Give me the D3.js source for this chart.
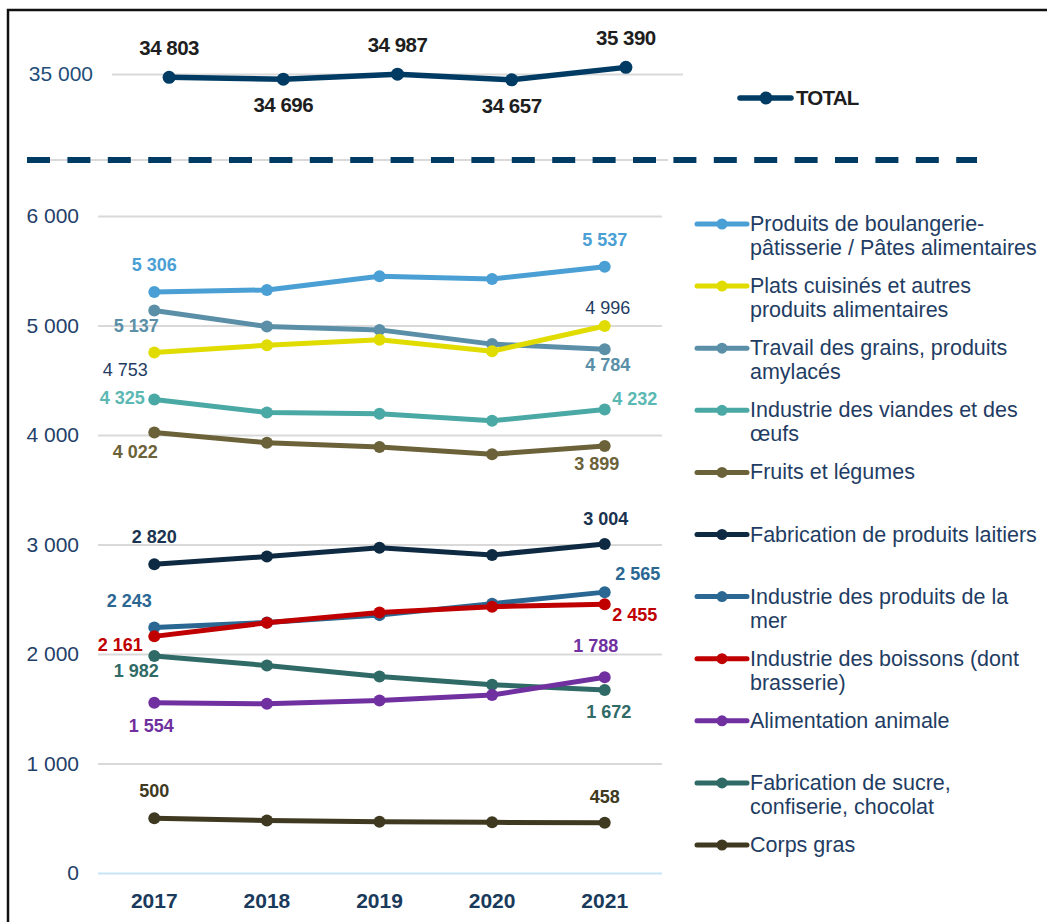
<!DOCTYPE html>
<html>
<head>
<meta charset="utf-8">
<script src="https://cdn.jsdelivr.net/npm/d3@7"></script>
<style>
  body { margin: 0; background: #fff; }
  svg { font-family: "Liberation Sans", Arial, sans-serif; display: block; }
</style>
</head>
<body>
<div id="chart"></div>
<script>
const YEARS = ["2017", "2018", "2019", "2020", "2021"];

const TOTAL = [34803, 34696, 34987, 34657, 35390];

const SERIES_NAMES = [
  "Produits de boulangerie-pâtisserie / Pâtes alimentaires",
  "Plats cuisinés et autres produits alimentaires",
  "Travail des grains, produits amylacés",
  "Industrie des viandes et des œufs",
  "Fruits et légumes",
  "Fabrication de produits laitiers",
  "Industrie des produits de la mer",
  "Industrie des boissons (dont brasserie)",
  "Alimentation animale",
  "Fabrication de sucre, confiserie, chocolat",
  "Corps gras",
];

// legend lines as wrapped in the source
const LEGEND_LINES = [
  ["Produits de boulangerie-", "pâtisserie / Pâtes alimentaires"],
  ["Plats cuisinés et autres", "produits alimentaires"],
  ["Travail des grains, produits", "amylacés"],
  ["Industrie des viandes et des", "œufs"],
  ["Fruits et légumes"],
  ["Fabrication de produits laitiers"],
  ["Industrie des produits de la", "mer"],
  ["Industrie des boissons (dont", "brasserie)"],
  ["Alimentation animale"],
  ["Fabrication de sucre,", "confiserie, chocolat"],
  ["Corps gras"],
];

const boulangerie = [5306, 5325, 5450, 5425, 5537];
const platsCuisines = [4753, 4820, 4870, 4765, 4996];
const grains = [5137, 4990, 4960, 4830, 4784];
const viandes = [4325, 4205, 4195, 4130, 4232];
const fruitsLegumes = [4022, 3930, 3890, 3825, 3899];
const laitiers = [2820, 2890, 2970, 2905, 3004];
const produitsMer = [2243, 2288, 2355, 2460, 2565];
const boissons = [2161, 2285, 2378, 2432, 2455];
const animale = [1554, 1545, 1575, 1625, 1788];
const sucre = [1982, 1895, 1795, 1720, 1672];
const corpsGras = [500, 480, 468, 463, 458];

const Y_TICKS = [0, 1000, 2000, 3000, 4000, 5000, 6000];
const TOTAL_TICKS = [35000];

const navy = "#1f3d63";
const colors = [
  "#4a9fd5", "#e1dc00", "#5b8fa8", "#4aa9a4", "#6b6239", "#0e2a42",
  "#2a6793", "#c00000", "#7030a0", "#2f6a66", "#3e3920",
];
const labelColors = [
  "#4a9fd5", navy, "#5b8fa8", "#5cb8b3", "#6b6239", "#1a3350",
  "#2a6793", "#c00000", "#7030a0", "#2f6a66", "#3e3920",
];

const values = [
  boulangerie, platsCuisines, grains, viandes, fruitsLegumes, laitiers,
  produitsMer, boissons, animale, sucre, corpsGras,
];

// draw order (later = on top)
const drawOrder = [0, 2, 1, 3, 4, 5, 6, 7, 9, 8, 10];

// label offsets for first / last point: [dx, dy]
const labelOffsets = [
  [[0, -21], [0, -21]],
  [[-29, 23], [3, -12]],
  [[-18, 22], [3, 22]],
  [[-32, 5], [30, -5]],
  [[-19, 25], [-8, 24]],
  [[0, -21], [1, -19]],
  [[-25, -20], [33, -12]],
  [[-34, 15], [30, 17]],
  [[-3, 29], [-9, -25]],
  [[-18, 21], [4, 28]],
  [[0, -21], [0, -20]],
];
const labelBold = (i) => i !== 1;

const fr = d3.formatLocale({
  decimal: ",",
  thousands: "\u00a0",
  grouping: [3],
  currency: ["", " €"],
});
const fmt = fr.format(",d");

const W = 1047, H = 922;

const svg = d3
  .select("#chart")
  .append("svg")
  .attr("width", W)
  .attr("height", H);

svg.append("rect").attr("width", W).attr("height", H).attr("fill", "#fff");

// frame
svg
  .append("rect")
  .attr("x", 8)
  .attr("y", 10)
  .attr("width", 1200)
  .attr("height", 1200)
  .attr("fill", "none")
  .attr("stroke", "#111")
  .attr("stroke-width", 2.5);

// #region top panel (TOTAL)
const xTop = d3.scaleBand().domain(YEARS).range([112, 683]);
const yTop = d3.scaleLinear().domain([34000, 36000]).range([91, 57]);

const topAxis = svg
  .append("g")
  .attr("transform", "translate(112, 0)")
  .call(
    d3
      .axisLeft(yTop)
      .tickValues(TOTAL_TICKS)
      .tickSize(-571)
      .tickPadding(19)
      .tickFormat(fmt)
  );
topAxis.select(".domain").remove();
topAxis.selectAll("line").attr("stroke", "#d9d9d9").attr("stroke-width", 2);
topAxis
  .selectAll("text")
  .attr("fill", "#1f4e79")
  .attr("font-size", 21)
  .attr("font-family", "Liberation Sans, Arial, sans-serif");

const topLine = d3
  .line()
  .x((d, i) => xTop(YEARS[i]) + xTop.bandwidth() / 2)
  .y((d) => yTop(d));

svg
  .append("path")
  .datum(TOTAL)
  .attr("d", topLine)
  .attr("fill", "none")
  .attr("stroke", "#003b64")
  .attr("stroke-width", 5.5)
  .attr("stroke-linejoin", "round");

svg
  .selectAll(".top-dot")
  .data(TOTAL)
  .join("circle")
  .attr("class", "top-dot")
  .attr("cx", (d, i) => xTop(YEARS[i]) + xTop.bandwidth() / 2)
  .attr("cy", (d) => yTop(d))
  .attr("r", 6.5)
  .attr("fill", "#003b64");

svg
  .selectAll(".top-label")
  .data(TOTAL)
  .join("text")
  .attr("class", "top-label")
  .attr("x", (d, i) => xTop(YEARS[i]) + xTop.bandwidth() / 2)
  .attr("y", (d, i) => yTop(d) + (i % 2 === 0 ? -22 : 33))
  .attr("text-anchor", "middle")
  .attr("font-size", 20.5)
  .attr("font-weight", "bold")
  .attr("letter-spacing", -0.5)
  .attr("fill", "#1e1e1e")
  .text(fmt);

// total legend
const totalLegend = svg.append("g").attr("transform", "translate(740, 98)");
totalLegend
  .append("line")
  .attr("x1", 0)
  .attr("x2", 51)
  .attr("stroke", "#003b64")
  .attr("stroke-width", 5.5)
  .attr("stroke-linecap", "round");
totalLegend.append("circle").attr("cx", 26).attr("r", 6.5).attr("fill", "#003b64");
totalLegend
  .append("text")
  .attr("x", 56)
  .attr("y", 7)
  .attr("font-size", 20.5)
  .attr("font-weight", "bold")
  .attr("letter-spacing", -0.8)
  .attr("fill", "#1e1e1e")
  .text("TOTAL");

// separator
svg
  .append("line")
  .attr("x1", 27)
  .attr("x2", 668)
  .attr("y1", 160)
  .attr("y2", 160)
  .attr("stroke", "#d9d9d9")
  .attr("stroke-width", 2);
svg
  .append("line")
  .attr("x1", 27)
  .attr("x2", 977)
  .attr("y1", 160)
  .attr("y2", 160)
  .attr("stroke", "#003b64")
  .attr("stroke-width", 6)
  .attr("stroke-dasharray", "23 17.4");
// #endregion top panel

// #region main panel
const xMain = d3.scaleBand().domain(YEARS).range([98, 661]);
const yMain = d3.scaleLinear().domain([0, 6000]).range([873, 216]);
const cx = (i) => xMain(YEARS[i]) + xMain.bandwidth() / 2;

const yAxisG = svg
  .append("g")
  .attr("transform", "translate(98, 0)")
  .call(
    d3
      .axisLeft(yMain)
      .tickValues(Y_TICKS)
      .tickSize(-564)
      .tickPadding(19)
      .tickFormat(fmt)
  );
yAxisG.select(".domain").remove();
yAxisG
  .selectAll("line")
  .attr("stroke", (d) => (d === 0 ? "#c7e4f7" : "#d9d9d9"))
  .attr("stroke-width", 2);
yAxisG
  .selectAll("text")
  .attr("fill", "#1f4068")
  .attr("font-size", 21)
  .attr("font-family", "Liberation Sans, Arial, sans-serif");

const xAxisG = svg
  .append("g")
  .attr("transform", "translate(0, 873)")
  .call(d3.axisBottom(xMain).tickSize(0).tickPadding(20));
xAxisG.select(".domain").remove();
xAxisG
  .selectAll("text")
  .attr("fill", "#1a3a5c")
  .attr("font-size", 21)
  .attr("font-weight", "bold")
  .attr("font-family", "Liberation Sans, Arial, sans-serif");

const mainLine = d3
  .line()
  .x((d, i) => cx(i))
  .y((d) => yMain(d));

const seriesG = svg.append("g");
drawOrder.forEach((s) => {
  const g = seriesG.append("g");
  g.append("path")
    .datum(values[s])
    .attr("d", mainLine)
    .attr("fill", "none")
    .attr("stroke", colors[s])
    .attr("stroke-width", 5)
    .attr("stroke-linejoin", "round");
  g.selectAll("circle")
    .data(values[s])
    .join("circle")
    .attr("cx", (d, i) => cx(i))
    .attr("cy", (d) => yMain(d))
    .attr("r", 6)
    .attr("fill", colors[s]);
});

// data labels on first and last year
const labelG = svg.append("g");
values.forEach((vals, s) => {
  [0, vals.length - 1].forEach((idx, k) => {
    const [dx, dy] = labelOffsets[s][k];
    labelG
      .append("text")
      .attr("x", cx(idx) + dx)
      .attr("y", yMain(vals[idx]) + dy)
      .attr("text-anchor", "middle")
      .attr("font-size", 18)
      .attr("font-weight", labelBold(s) ? "bold" : "normal")
      .attr("fill", labelColors[s])
      .text(fmt(vals[idx]));
  });
});

// legend
const legend = svg.append("g").attr("transform", "translate(697, 224)");
const rows = legend
  .selectAll("g")
  .data(SERIES_NAMES)
  .join("g")
  .attr("transform", (d, i) => `translate(0, ${i * 62.1})`);
rows
  .append("line")
  .attr("x1", 0)
  .attr("x2", 50)
  .attr("stroke", (d, i) => colors[i])
  .attr("stroke-width", 5)
  .attr("stroke-linecap", "round");
rows
  .append("circle")
  .attr("cx", 25)
  .attr("r", 5.5)
  .attr("fill", (d, i) => colors[i]);
rows
  .append("text")
  .attr("x", 53)
  .attr("y", 7)
  .attr("font-size", 21.5)
  .attr("fill", navy)
  .selectAll("tspan")
  .data((d, i) => LEGEND_LINES[i])
  .join("tspan")
  .attr("x", 53)
  .attr("dy", (d, j) => (j === 0 ? 0 : 24))
  .text((d) => d);
// #endregion main panel
</script>
</body>
</html>
